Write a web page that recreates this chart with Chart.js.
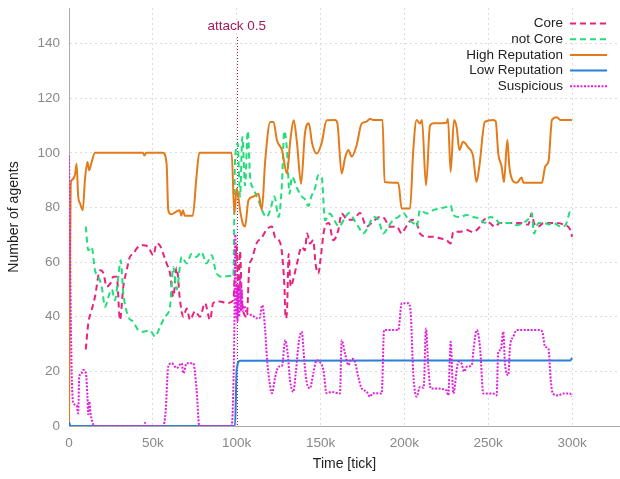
<!DOCTYPE html>
<html>
<head>
<meta charset="utf-8">
<script src="https://cdn.jsdelivr.net/npm/chart.js@4"></script>
<style>
  html, body { margin: 0; padding: 0; background: #fff; }
  #wrap { width: 620px; height: 479px; }
</style>
</head>
<body>
<div id="wrap"><canvas id="agentsChart"></canvas></div>
<script>
// tick positions (in ticks of simulation time and agent counts)
const xTicks = [0, 50000, 100000, 150000, 200000, 250000, 300000];
const yTicks = [0, 20, 40, 60, 80, 100, 120, 140];
const attackAt = 100000;
const attackLabel = 'attack 0.5';

const seriesNames = ['Core', 'not Core', 'High Reputation', 'Low Reputation', 'Suspicious'];

// x values are in thousands of ticks
const coreX = [10, 11.5, 13.5, 15.5, 18.5, 20.5, 22.5, 24.5, 26.5, 28.5, 30.4, 32.4, 34.4, 36.4, 38.4, 40.4, 44.3, 47.3, 50.3, 52.3,
  54.3, 56.2, 58.2, 60.2, 62.2, 64.2, 66.2, 68.2, 70.2, 72.2, 75.1, 78.1, 81.1, 84.1, 86, 90, 94, 98, 99, 100,
  101, 102, 103, 104.4, 106, 107.5, 109, 112, 115, 118, 121, 123, 126, 128.4, 129.2, 130, 131, 132.2, 133, 136,
  138.7, 140.7, 142, 143.7, 145.7, 147, 148.7, 150, 151.7, 152.7, 155, 157.6, 160.6, 162.6, 166, 169.5, 173.5, 177.5, 181.5, 185.5,
  188, 191.4, 195.4, 198.4, 200.4, 202.4, 204.3, 207.3, 209.3, 213.3, 217.3, 221.3, 225.2, 227.6, 229.2, 233.2, 237.2, 241, 245.1, 248,
  251, 254, 257, 261, 265, 269, 273.9, 276, 277.3, 280, 283, 287, 290.8, 295, 299, 300];
const coreY = [28, 37.6, 42.4, 47.3, 57, 56, 51, 52, 54.6, 54.6, 38.8, 51, 57, 62, 63, 65, 66.2, 65.5, 62.5, 66.8,
  66, 63, 59.5, 56, 47.3, 58, 46, 40, 43, 38.8, 42, 40, 45, 38.8, 45, 45.6, 45, 46, 58, 66,
  47, 64, 47, 41, 40, 58, 61, 67, 69, 72, 73, 69, 67, 52, 39.4, 42, 63, 51, 52, 59.5,
  65.6, 64.3, 70.5, 66.8, 68, 59.5, 55.8, 61, 70, 73, 74.3, 68, 71.7, 77.8, 75.5, 75.5, 78, 73, 75, 76.5,
  76, 72.9, 73, 70.5, 72.3, 74.3, 75.5, 74.3, 70.5, 69.3, 69.3, 68.7, 68, 66.8, 71.1, 71.1, 71.7, 71, 73, 75.7,
  74.3, 73, 74.3, 74.3, 74.3, 74.3, 73.7, 77.8, 74.3, 73, 74.3, 74.3, 74.3, 73.7, 71.7, 69.3];

const notCoreX = [10, 11.5, 13.5, 15.5, 17.5, 19.5, 21.5, 23.5, 25.5, 27.4, 29.4, 30.8, 32.4, 35.4, 38.4, 41.3, 44.3, 48.3, 51.3, 54.3,
  57.2, 60.2, 62.2, 64.2, 67.2, 70.2, 73.1, 76, 79, 82, 85, 88, 92, 96, 98, 99, 100.6, 102, 103.4, 105,
  106.6, 108, 110, 113, 116, 118, 120, 122.5, 125, 127, 128.4, 130, 131.5, 133, 136, 138.8, 140.7, 142.7, 144.5, 146.7,
  148.7, 150.7, 152.7, 155.6, 158, 161, 164, 167, 170, 172.5, 175.5, 178.5, 181.5, 184.5, 187.5, 190.5, 193.4, 196.4, 199.4, 202.4,
  205.3, 207.3, 209.3, 213.3, 217.3, 221.3, 225.2, 227.6, 229.2, 233.2, 237.2, 241, 245.1, 248, 251, 254, 257, 260, 263, 267,
  270.9, 273.9, 276, 277.3, 280, 283, 286, 289, 293, 296, 299, 300];
const notCoreY = [73, 64.3, 65.5, 57, 54.6, 51, 43.6, 47.3, 50, 46, 54.6, 60.7, 48.5, 40, 38.1, 35.1, 34.5, 35, 32.7, 36.3,
  40, 43.6, 58.2, 50, 61.9, 59.5, 63, 61.9, 63.7, 59.5, 62.5, 55.8, 54.6, 55, 54.6, 97, 103.4, 84, 105.8, 88,
  108, 91.2, 86.9, 82.6, 77.8, 76.5, 79, 84, 76.5, 88.7, 108, 101, 85, 91.2, 87, 84, 83, 80.5, 84, 87,
  91.8, 91.2, 75.3, 77.8, 75.5, 73, 75.5, 78, 75.5, 73, 70.5, 73, 76.5, 75.5, 70.5, 73, 75.5, 76.5, 78, 75.5,
  74.3, 72.9, 79, 77.8, 79, 79.6, 80.2, 80.8, 77.2, 76.5, 77.2, 76.5, 75.9, 74.3, 76.5, 76, 74.3, 74.3, 74.3, 73.5,
  74.3, 75.7, 77.8, 70.5, 74.3, 74.3, 73.8, 74.3, 73, 73.5, 79, 79.6];

const highRepX = [0, 1, 1.6, 3.6, 4.5, 5.5, 6.6, 8.2, 9.5, 11, 12, 13.5, 15.5, 44, 45, 46, 56, 58.2, 59.2, 61,
  64, 66, 67, 68, 69, 73.8, 76, 77.7, 97, 98.6, 100, 101, 102, 104, 105, 107, 110, 113, 115, 117,
  120, 122, 124, 127, 130, 132, 134, 136, 138.4, 140.7, 143, 145, 147.7, 150.6, 153.7, 158.6, 160, 162.6, 164.6, 166.6,
  168.6, 171.5, 174.5, 177.5, 179.5, 181.5, 187, 188.2, 196.4, 198.4, 203.4, 205.3, 207.3, 209.3, 210.5, 212.9, 215.3, 217.3, 225.2, 226,
  227.6, 229.6, 231.2, 232.8, 235, 238, 241, 243, 244.7, 248, 253, 254.5, 256, 258, 259.4, 261.4, 262.6, 264.6, 267, 270,
  271, 282, 284, 286, 288, 291, 293, 300];
const highRepY = [0, 88, 90, 92, 96, 84, 81.5, 79, 90, 96.6, 93.6, 96.6, 100, 100, 99, 100, 100, 96, 79, 77.5,
  78.5, 79, 77, 79, 77, 77, 91, 100, 100, 77.8, 86.9, 83.8, 79, 73.5, 73, 82.6, 84, 85, 79, 97,
  111.3, 111.3, 104.6, 101, 92.4, 104.6, 111.9, 103.4, 88.7, 107, 110.8, 103.4, 99.7, 103.4, 111.9, 112, 111, 92.4, 98, 101,
  98.6, 102.7, 110.7, 111.4, 112.5, 112, 112, 89.3, 89, 79.6, 79.6, 100.9, 112, 110.7, 112, 88, 110, 110.8, 111, 112.5,
  93, 112, 109.2, 101, 104, 102, 98.7, 89.3, 95, 111.3, 112, 111.5, 99.7, 95, 89.3, 104.8, 95, 89.8, 89, 91,
  89, 89, 95, 97, 112, 113, 112, 112];

const lowRepX = [0, 1, 99, 100, 102, 299, 300];
const lowRepY = [1.5, 0, 0, 20.5, 23.9, 24, 25];

const suspX = [0, 1.5, 2.6, 4.6, 5.5, 6.1, 7.5, 8.5, 10.1, 11, 11.5, 12.1, 12.9, 14.5, 15, 45, 45.3, 45.6, 56.2, 57.6,
  59.2, 61.2, 64.2, 67.2, 68.2, 70.2, 74.1, 76.1, 77.7, 97, 98.5, 99.2, 99.6, 100, 100.5, 101, 101.5, 102, 102.5, 103,
  103.6, 104.5, 106, 109, 112, 113.5, 115.3, 117, 118, 120, 121, 123, 125, 127, 129, 130.4, 131.8, 133.8, 135.2, 137.2,
  138.8, 140.3, 141.7, 143.7, 145.7, 147.7, 149.5, 151.7, 153.6, 156.6, 161.6, 162.6, 164.6, 166.6, 168.6, 170.5, 172.5, 174.5, 177.5, 179.5,
  181, 186.5, 187.9, 196.4, 198.4, 202.4, 203.8, 205.3, 207.3, 209.3, 211.5, 212.9, 214.3, 215.7, 219.3, 225.2, 226.2, 227.6, 229.2, 232.2,
  234, 235.6, 237.2, 240.2, 241.2, 243.2, 245.1, 247.1, 253, 255, 256, 257.5, 259, 260, 262, 263, 265, 267, 281, 282.5,
  283.9, 285.9, 287.3, 288.5, 291.8, 295, 298.8, 299.8];
const suspY = [99, 23, 8.3, 7.6, 4.6, 18, 19.3, 20.5, 19.3, 10.7, 4.3, 8.9, 4.5, 0.4, 0, 0, 1.2, 0, 0, 5.2,
  21.7, 23, 21.2, 23, 19.3, 23, 23, 13.2, 0, 0, 30, 70, 40, 52, 38, 50, 40, 55, 42, 50,
  42, 44, 41.2, 40.6, 39.4, 39.4, 44.2, 35, 25.3, 14.4, 12, 18, 21.7, 22, 31.4, 26.6, 16.8, 12.5, 19.3, 31.4,
  34.5, 24.1, 16.2, 13.8, 19.3, 24.1, 23.5, 20.5, 12, 12.5, 11.9, 31.4, 26.6, 22.3, 24.6, 23.5, 18, 13.8, 12.6, 10.7,
  12, 11.9, 35.1, 35.1, 44.9, 44.9, 41.2, 19.3, 10.7, 14.3, 14, 35.7, 21.7, 13.7, 13.7, 13, 11.2, 30.8, 11.9, 23.5,
  23, 19.9, 21.7, 22.3, 27.8, 35.1, 29, 11.9, 11.9, 11.2, 27.2, 27.8, 34.5, 22.9, 18.6, 29, 32.7, 35.1, 35.1, 34,
  29, 28.4, 16.8, 11.9, 11.2, 11.9, 11.9, 10.7];

const toPoints = (xs, ys) => xs.map((x, i) => ({ x: x * 1000, y: ys[i] }));

const fontFamily = "'Liberation Sans', Arial, sans-serif";

// legend drawn at the top right, text left of the line sample (like gnuplot)
const sideLegend = {
    id: 'sideLegend',
    beforeDatasetsDraw(chart) {
        const ctx = chart.ctx;
        const xs = chart.scales.x, ys = chart.scales.y;
        const px = Math.round(xs.getPixelForValue(attackAt)) + 0.5;
        ctx.save();
        ctx.strokeStyle = '#a3195b';
        ctx.lineWidth = 1;
        ctx.setLineDash([1, 2]);
        ctx.beginPath();
        ctx.moveTo(px, chart.chartArea.top + 29);
        ctx.lineTo(px, ys.getPixelForValue(0));
        ctx.stroke();
        ctx.restore();
    },
    afterDraw(chart) {
        const ctx = chart.ctx;
        const xs = chart.scales.x;
        ctx.save();
        ctx.font = '13.5px ' + fontFamily;
        ctx.fillStyle = '#a3195b';
        ctx.textAlign = 'center';
        ctx.textBaseline = 'middle';
        ctx.fillText(attackLabel, xs.getPixelForValue(attackAt), chart.chartArea.top + 18);

        chart.data.datasets.forEach((ds, i) => {
            const y = 23.5 + i * 15.7;
            ctx.fillStyle = '#222';
            ctx.textAlign = 'right';
            ctx.fillText(ds.label, 563, y);
            ctx.strokeStyle = ds.borderColor;
            ctx.lineWidth = 2;
            ctx.setLineDash(ds.borderDash || []);
            ctx.beginPath();
            ctx.moveTo(570, y);
            ctx.lineTo(607, y);
            ctx.stroke();
        });
        ctx.restore();
    }
};

const agentsChart = new Chart(document.getElementById('agentsChart'), {
    type: 'line',
    data: {
        datasets: [
            { label: seriesNames[0], data: toPoints(coreX, coreY), borderColor: '#e8237c', borderDash: [6, 4], order: 5 },
            { label: seriesNames[1], data: toPoints(notCoreX, notCoreY), borderColor: '#21de78', borderDash: [6, 4], order: 4 },
            { label: seriesNames[2], data: toPoints(highRepX, highRepY), borderColor: '#e47b1a', order: 3 },
            { label: seriesNames[3], data: toPoints(lowRepX, lowRepY), borderColor: '#2a7fd6', order: 2 },
            { label: seriesNames[4], data: toPoints(suspX, suspY), borderColor: '#e21fdc', borderDash: [2, 1.5], order: 1 }
        ]
    },
    options: {
        responsive: true,
        maintainAspectRatio: false,
        animation: false,
        layout: { padding: { top: 8, right: 0, left: 0, bottom: 0 } },
        elements: {
            point: { radius: 0 },
            line: { borderWidth: 2, cubicInterpolationMode: 'monotone' }
        },
        scales: {
            x: {
                type: 'linear',
                min: 0,
                max: 328600,
                afterBuildTicks: s => { s.ticks = xTicks.map(v => ({ value: v })); },
                afterFit: s => { s.height = 53; s.paddingRight = 0; },
                ticks: {
                    color: '#888',
                    font: { size: 13.5, family: fontFamily },
                    padding: 9,
                    maxRotation: 0,
                    callback: v => v === 0 ? '0' : (v / 1000) + 'k'
                },
                grid: { color: '#dcdcdc', drawTicks: false },
                border: { color: '#aaa', dash: [2, 3] },
                title: {
                    display: true,
                    text: 'Time [tick]',
                    color: '#222',
                    font: { size: 14, family: fontFamily },
                    padding: { top: 0, bottom: 6 }
                }
            },
            y: {
                min: 0,
                max: 153,
                afterBuildTicks: s => { s.ticks = yTicks.map(v => ({ value: v })); },
                afterFit: s => { s.width = 69; s.paddingTop = 0; s.paddingBottom = 0; },
                ticks: {
                    color: '#888',
                    font: { size: 13.5, family: fontFamily },
                    padding: 9
                },
                grid: { color: '#dcdcdc', drawTicks: false },
                border: { color: '#aaa', dash: [2, 3] },
                title: {
                    display: true,
                    text: 'Number of agents',
                    color: '#222',
                    font: { size: 14, family: fontFamily },
                    padding: { top: 6, bottom: 0 }
                }
            }
        },
        plugins: {
            legend: { display: false },
            tooltip: { enabled: false }
        }
    },
    plugins: [sideLegend]
});
</script>
</body>
</html>
